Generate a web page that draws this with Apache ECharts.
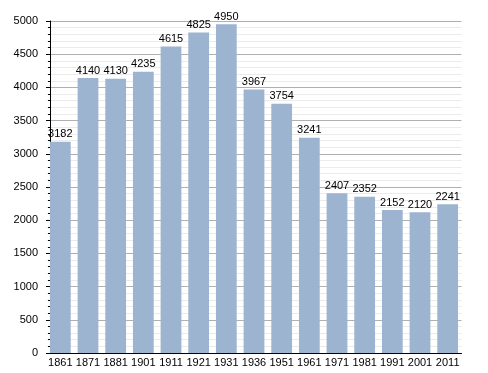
<!DOCTYPE html>
<html><head><meta charset="utf-8">
<script src="https://cdn.jsdelivr.net/npm/echarts@6/dist/echarts.min.js"></script>
<style>html,body{margin:0;padding:0;background:#fff}#c{width:488px;height:373px}</style>
</head><body><div id="c"></div>
<script>
const years = ['1861','1871','1881','1901','1911','1921','1931','1936','1951','1961','1971','1981','1991','2001','2011'];
const population = [3182,4140,4130,4235,4615,4825,4950,3967,3754,3241,2407,2352,2152,2120,2241];
const chart = echarts.init(document.getElementById('c'), null, {renderer:'canvas'});
const font = 'Liberation Sans, Arial, sans-serif';
chart.setOption({
  animation:false,
  grid:{left:46.5, right:26.5, top:21, bottom:20, containLabel:false},
  xAxis:{type:'category', data:years,
    axisLine:{lineStyle:{color:'#000', width:1}},
    axisTick:{show:false},
    axisLabel:{color:'#000', fontFamily:font, fontSize:11, margin:4, interval:0},
    splitLine:{show:false}},
  yAxis:{type:'value', min:0, max:5000, interval:500, offset:-3.5,
    axisLine:{show:true, lineStyle:{color:'#000', width:1}},
    axisTick:{show:true, length:4, lineStyle:{color:'#000'}},
    minorTick:{show:true, splitNumber:5, length:2, lineStyle:{color:'#000'}},
    axisLabel:{color:'#000', fontFamily:font, fontSize:11, margin:12, formatter:v=>String(v)},
    splitLine:{show:true, lineStyle:{color:'#b0b0b0', width:1}},
    minorSplitLine:{show:true, lineStyle:{color:'#ebebeb', width:1}}},
  series:[{type:'bar', data:population, barCategoryGap:'25%',
    itemStyle:{color:'#9db4d0'},
    label:{show:true, position:'top', distance:2, color:'#000', fontFamily:font, fontSize:11}}]
});
</script></body></html>
